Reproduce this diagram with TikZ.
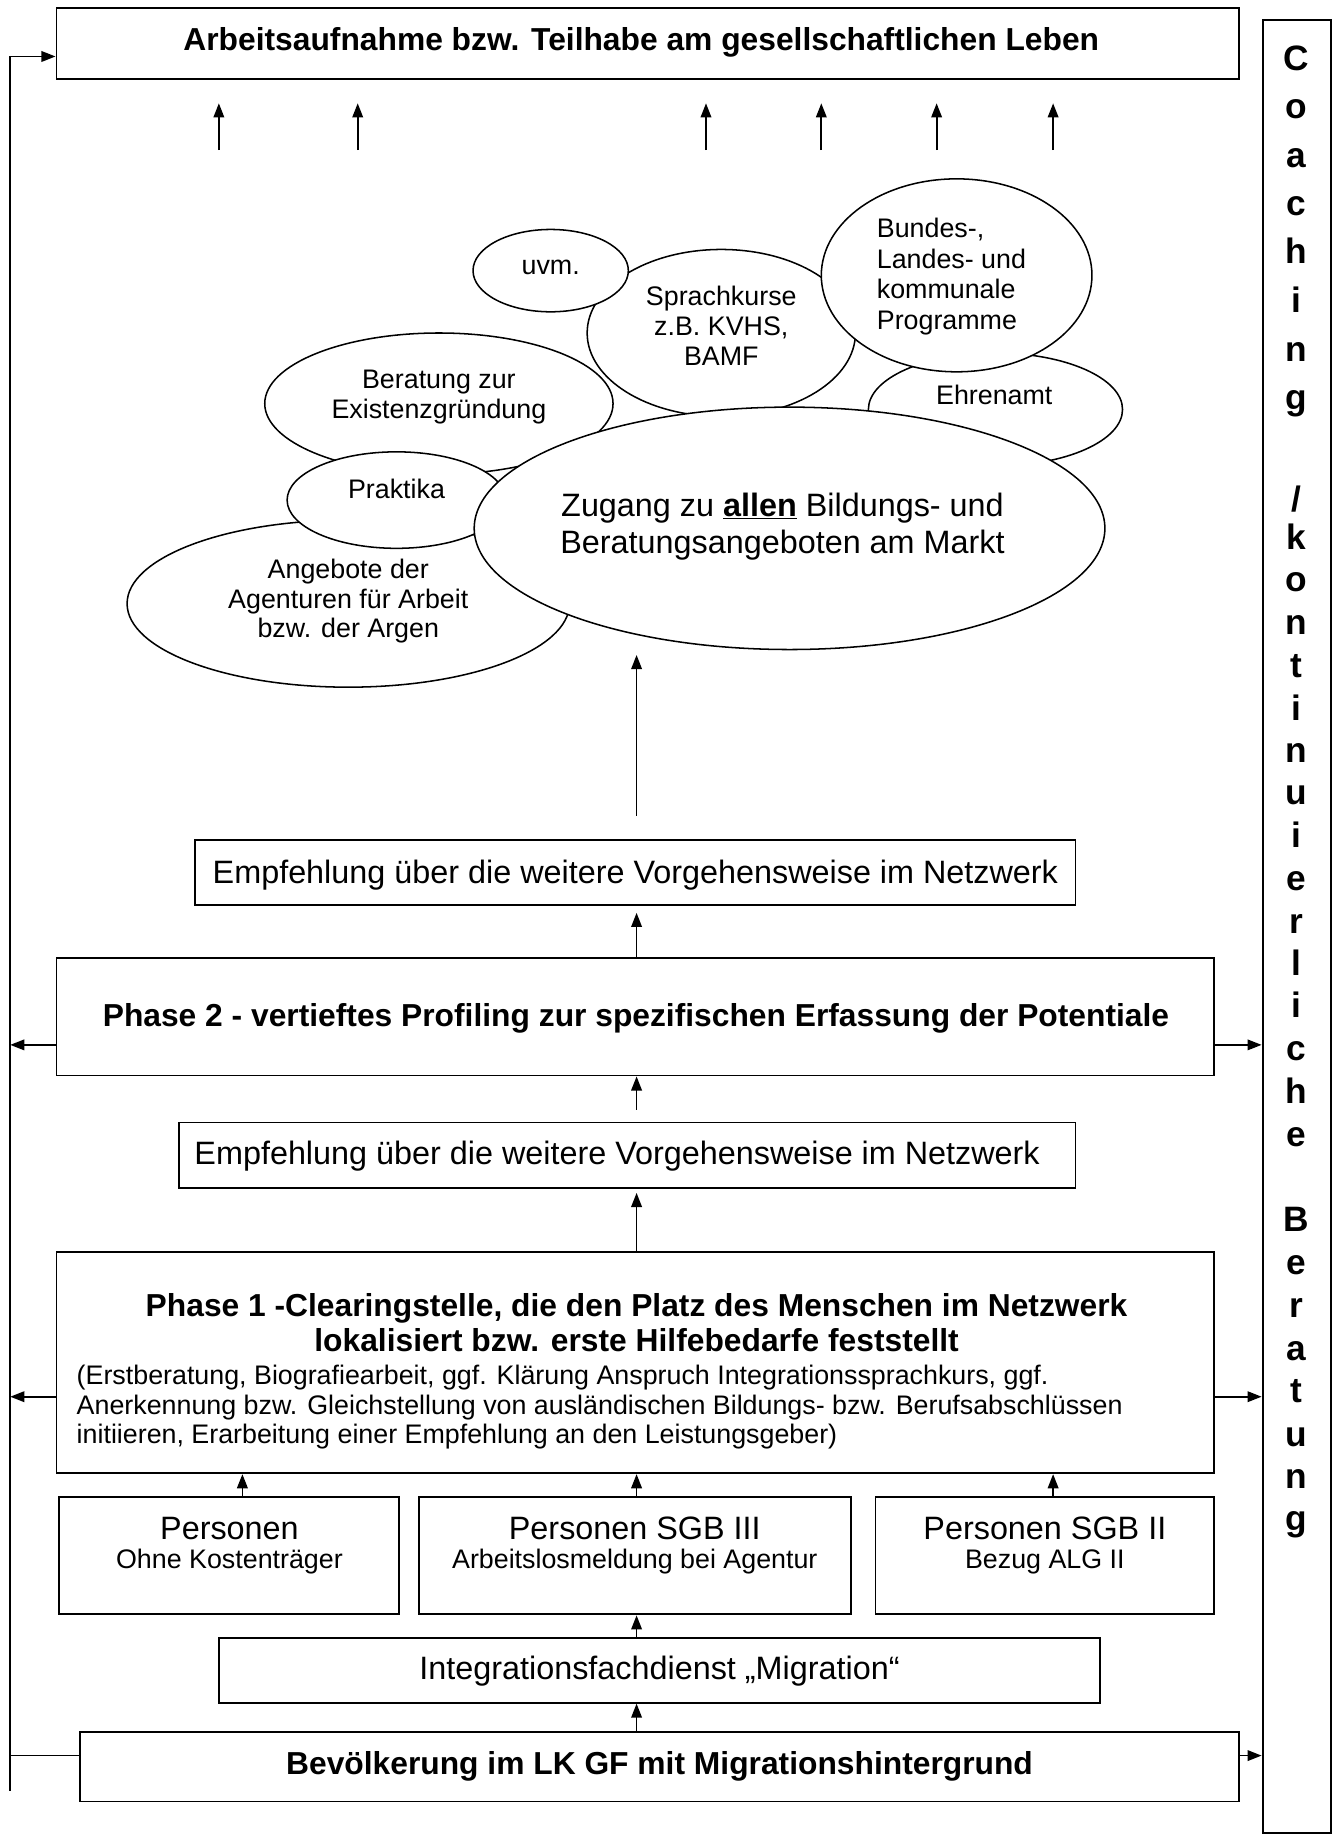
\documentclass[tikz,border=0pt]{standalone}
\usepackage{fontspec}
\setmainfont{Liberation Sans}
\usetikzlibrary{arrows.meta,shapes.geometric}
\newcommand\fsR{\fontsize{27.5}{31}\selectfont}
\newcommand\fsS{\fontsize{22.8}{25.5}\selectfont}
\newcommand\fsB{\fontsize{27}{30}\selectfont\bfseries}
\newcommand\fsC{\fontsize{30}{36}\selectfont\bfseries}
\tikzset{
  box/.style={draw, line width=1.6pt, inner sep=0pt},
  ell/.style={draw, ellipse, line width=1.3pt, fill=white, inner sep=0pt},
  tx/.style={inner sep=0pt, anchor=base},
  txl/.style={inner sep=0pt, anchor=base west},
  ln/.style={line width=1.5pt},
  arr/.style={line width=1.5pt, -{Triangle[length=12pt,width=9pt]}}
}
\begin{document}
\begin{tikzpicture}[x=1pt,y=-1pt]
\useasboundingbox (0,0) rectangle (1139,1568);

% ---------- boxes ----------
\node[box, minimum width=1005pt, minimum height=60pt] (top) at (550.5,37) {};
\node[tx, font=\fsB] (toptx) at (545,43) {Arbeitsaufnahme bzw. Teilhabe am gesellschaftlichen Leben};

\node[box, minimum width=58pt, minimum height=1541pt] (coach) at (1102,787.5) {};

\node[box, minimum width=748pt, minimum height=55pt] (emp1) at (540,741.5) {};
\node[tx, font=\fsR] (emp1tx) at (540,751) {Empfehlung über die weitere Vorgehensweise im Netzwerk};

\node[box, minimum width=984pt, minimum height=100pt] (ph2) at (540,864) {};
\node[tx, font=\fsB] (ph2tx) at (540.5,872) {Phase 2 - vertieftes Profiling zur spezifischen Erfassung der Potentiale};

\node[box, minimum width=762pt, minimum height=56pt] (emp2) at (533,982) {};
\node[tx, font=\fsR] (emp2tx) at (524.5,990) {Empfehlung über die weitere Vorgehensweise im Netzwerk};

\node[box, minimum width=984pt, minimum height=188pt] (ph1) at (540,1158) {};
\node[tx, font=\fsB] (ph1a) at (541,1119) {Phase 1 -Clearingstelle, die den Platz des Menschen im Netzwerk};
\node[tx, font=\fsB] (ph1b) at (541,1149) {lokalisiert bzw. erste Hilfebedarfe feststellt};
\node[txl, font=\fsS] (ph1c) at (65,1177) {(Erstberatung, Biografiearbeit, ggf. Klärung Anspruch Integrationssprachkurs, ggf.};
\node[txl, font=\fsS] (ph1d) at (65,1202) {Anerkennung bzw. Gleichstellung von ausländischen Bildungs- bzw. Berufsabschlüssen};
\node[txl, font=\fsS] (ph1e) at (65,1227) {initiieren, Erarbeitung einer Empfehlung an den Leistungsgeber)};

\node[box, minimum width=289pt, minimum height=100pt] (pa) at (194.5,1322) {};
\node[tx, font=\fsR] (pa1) at (195,1308) {Personen};
\node[tx, font=\fsS] (pa2) at (195,1333) {Ohne Kostenträger};

\node[box, minimum width=367pt, minimum height=100pt] (pb) at (539.5,1322) {};
\node[tx, font=\fsR] (pb1) at (539.5,1308) {Personen SGB III};
\node[tx, font=\fsS] (pb2) at (539.5,1333) {Arbeitslosmeldung bei Agentur};

\node[box, minimum width=288pt, minimum height=100pt] (pc) at (888,1322) {};
\node[tx, font=\fsR] (pc1) at (888,1308) {Personen SGB II};
\node[tx, font=\fsS] (pc2) at (888,1333) {Bezug ALG II};

\node[box, minimum width=749pt, minimum height=55pt] (integ) at (560.5,1419.5) {};
\node[tx, font=\fsR] (integtx) at (560.5,1427) {Integrationsfachdienst „Migration“};

\node[box, minimum width=985pt, minimum height=59pt] (bev) at (560.5,1501.5) {};
\node[tx, font=\fsB] (bevtx) at (560.5,1508) {Bevölkerung im LK GF mit Migrationshintergrund};

% ---------- ellipses ----------
\node[ell, minimum width=296pt, minimum height=120pt] (ber) at (373,343) {};
\node[ell, minimum width=376pt, minimum height=142pt] (ang) at (296,513) {};
\node[ell, minimum width=186pt, minimum height=82pt] (pra) at (337,425) {};
\node[ell, minimum width=228pt, minimum height=142pt] (spr) at (613,283) {};
\node[ell, minimum width=132pt, minimum height=70pt] (uvm) at (468,230) {};
\node[ell, minimum width=216pt, minimum height=96pt] (ehr) at (846,348) {};
\node[ell, minimum width=230pt, minimum height=164pt] (bun) at (813,234) {};
\node[ell, minimum width=536pt, minimum height=206pt] (big) at (671,449) {};

\node[tx, font=\fsS] (uvmtx) at (468,233) {uvm.};
\node[tx, font=\fsS] (spr1) at (613,260) {Sprachkurse};
\node[tx, font=\fsS] (spr2) at (613,285.5) {z.B. KVHS,};
\node[tx, font=\fsS] (spr3) at (613,311) {BAMF};
\node[txl, font=\fsS] (bun1) at (745,202) {Bundes-,};
\node[txl, font=\fsS] (bun2) at (745,228) {Landes- und};
\node[txl, font=\fsS] (bun3) at (745,254) {kommunale};
\node[txl, font=\fsS] (bun4) at (745,280) {Programme};
\node[tx, font=\fsS] (ehrtx) at (845,344) {Ehrenamt};
\node[tx, font=\fsS] (ber1) at (373,330.5) {Beratung zur};
\node[tx, font=\fsS] (ber2) at (373,356) {Existenzgründung};
\node[tx, font=\fsS] (pratx) at (337,424) {Praktika};
\node[tx, font=\fsS] (ang1) at (296,492) {Angebote der};
\node[tx, font=\fsS] (ang2) at (296,517.5) {Agenturen für Arbeit};
\node[tx, font=\fsS] (ang3) at (296,542) {bzw. der Argen};
\node[tx, font=\fsR] (big1) at (665,439) {Zugang zu \underline{\textbf{allen}} Bildungs- und};
\node[tx, font=\fsR] (big2) at (665,470) {Beratungsangeboten am Markt};

% ---------- coaching column ----------
\foreach \ch/\yy [count=\i] in {C/60,o/101,a/142,c/183,h/224,i/266,n/307,g/348,
  k/467,o/503,n/539,t/576,i/612,n/648,u/684,i/720,e/757,r/793,l/829,i/865,c/901,h/938,e/974,
  B/1047,e/1083,r/1120,a/1156,t/1192,u/1229,n/1265,g/1301}
  \node[tx, font=\fsC] (cc\i) at (1102,\yy) {\ch};
\node[tx, font=\fsC] (ccslash) at (1102,435) {/};

% ---------- helper coordinates ----------
\coordinate (fbtop) at (8.7,48);
\coordinate (fbbot) at (8.7,1522);
\coordinate (y2) at (0,888);
\coordinate (y1) at (0,1187);
\coordinate (yb) at (0,1492);
\coordinate (xa) at (206,0);
\coordinate (xm) at (541,0);
\coordinate (xc) at (895,0);

% ---------- connectors ----------
\foreach \xx [count=\i] in {186,304,600,698,796,895} {
  \coordinate (ua\i) at (\xx,127.5);
  \draw[arr, shorten >=20pt] (ua\i) -- (ua\i |- top.south);
}
\draw[ln] (fbbot) -- (fbtop);
\draw[arr] (fbtop) -- (fbtop -| top.west);
\draw[ln] (bev.west |- yb) -- (fbbot |- yb);
\draw[arr] (bev.east |- yb) -- (coach.west |- yb);
\draw[arr] (ph2.west |- y2) -- (fbtop |- y2);
\draw[arr] (ph2.east |- y2) -- (coach.west |- y2);
\draw[arr] (ph1.west |- y1) -- (fbtop |- y1);
\draw[arr] (ph1.east |- y1) -- (coach.west |- y1);

\draw[arr, shorten <=20pt, shorten >=4pt] (xm |- emp1.north) -- (xm |- big.south);
\draw[arr, shorten >=6pt] (xm |- ph2.north) -- (xm |- emp1.south);
\draw[arr, shorten <=10pt] (xm |- emp2.north) -- (xm |- ph2.south);
\draw[arr, shorten >=3pt] (xm |- ph1.north) -- (xm |- emp2.south);
\draw[arr] (xa |- pa.north) -- (xa |- ph1.south);
\draw[arr] (xm |- pb.north) -- (xm |- ph1.south);
\draw[arr] (xc |- pc.north) -- (xc |- ph1.south);
\draw[arr] (xm |- integ.north) -- (xm |- pb.south);
\draw[arr] (xm |- bev.north) -- (xm |- integ.south);
\end{tikzpicture}
\end{document}
